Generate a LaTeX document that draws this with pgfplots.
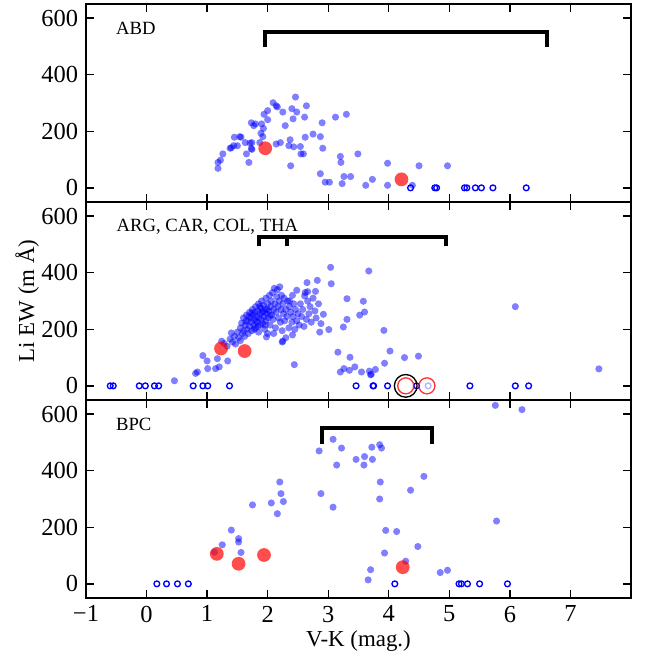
\documentclass[border=0pt]{standalone}
\usepackage{fontspec}
\setmainfont{Liberation Serif}
\usepackage{pgfplots}
\pgfplotsset{compat=1.18}

\pgfplotsset{
  panel/.style={
    scale only axis, width=245.25pt, height=89.1pt,
    xmin=-1, xmax=8, ymin=-50, ymax=650,
    xtick={-1,0,1,2,3,4,5,6,7}, ytick={0,200,400,600},
    tick align=inside, major tick length=3.6pt,
    axis line style={line width=0.9pt},
    tick style={line width=0.6pt, black},
    tick label style={font=\fontsize{11}{13}\selectfont},
    /pgf/number format/assume math mode=true,
    anchor=south west, clip mode=individual,
  },
  bluedot/.style={only marks, blue, mark=*, mark size=1.6pt,
    mark options={draw opacity=0, fill=blue, fill opacity=0.5}},
  openblue/.style={only marks, blue, mark=o, mark size=1.3pt,
    mark options={draw=blue, line width=0.6pt}},
  reddot/.style={only marks, red, mark=*, mark size=3.1pt,
    mark options={draw opacity=0, fill=red, fill opacity=0.7}},
  bracket/.style={black, line width=1.8pt, mark=none},
}
\tikzset{plabel/.style={anchor=west, inner sep=0pt, font=\fontsize{8.4}{10}\selectfont}}

\begin{document}
\begin{tikzpicture}
% ---------------- Panel 1: ABD ----------------
\begin{axis}[panel, at={(0,178.2pt)}, xticklabels={}]
\addplot[bluedot] coordinates {
(2.46,321)(2.09,301)(2.14,290)(2.16,286)(2.64,290)(2.40,280)(2.25,268)(2.48,268)
(2.00,273)(1.94,260)(3.30,260)(3.12,250)(2.61,250)(2.42,244)(2.00,241)(1.73,230)
(1.80,226)(1.77,220)(1.90,226)(2.90,230)(2.29,220)(1.93,210)(1.89,193)(2.75,190)
(2.62,179)(2.87,181)(1.92,181)(1.54,181)(1.56,179)(1.45,179)(2.37,170)(1.63,160)
(1.74,160)(1.71,158)(1.87,160)(2.21,160)(2.14,155)(1.50,149)(1.44,149)(1.38,140)
(1.40,142)(2.35,149)(2.43,145)(2.54,146)(2.91,140)(1.73,139)(1.74,136)(1.26,120)
(1.65,120)(2.59,120)(2.55,120)(3.20,111)(3.49,120)(1.22,98)(1.18,90)(1.18,69)
(1.69,90)(2.38,78)(3.21,90)(3.98,87)(4.50,78)(4.97,78)(2.87,50)(3.26,40)(3.37,40)
(3.73,30)(2.95,20)(3.02,20)(3.23,15)(3.62,9)(3.98,9)(4.39,9)
};
\addplot[openblue] coordinates {
(4.36,0)(4.76,0)(4.79,0)(5.25,0)(5.29,0)(5.43,0)(5.53,0)(5.72,0)(6.27,0)
};
\addplot[reddot] coordinates {(1.96,140)(4.21,30)};
\addplot[bracket] coordinates {(1.96,498)(1.96,552)(6.62,552)(6.62,498)};
\node[plabel] at (axis cs:-0.51,563) {ABD};
\end{axis}

% ---------------- Panel 2: ARG, CAR, COL, THA ----------------
\begin{axis}[panel, at={(0,89.1pt)}, xticklabels={}]
\addplot[bluedot] coordinates {
(0.46,18)(0.81,44)(0.84,49)(0.93,107)(1.00,88)(1.01,61)(1.14,61)(1.20,67)(1.34,88)
(1.17,96)(1.24,158)(1.40,187)
(1.28,150)(1.33,140)(1.38,165)(1.42,155)(1.45,175)(1.47,148)(1.50,190)(1.52,170)
(1.55,160)(1.55,205)(1.57,222)(1.58,185)(1.60,195)(1.60,240)(1.62,175)(1.63,215)
(1.65,250)(1.66,200)(1.67,230)(1.68,185)(1.70,260)(1.70,210)(1.72,240)(1.73,225)
(1.74,195)(1.75,270)(1.76,250)(1.77,215)(1.78,235)(1.79,260)(1.80,280)(1.80,205)
(1.82,245)(1.83,225)(1.84,265)(1.85,290)(1.85,190)(1.86,240)(1.87,255)(1.88,215)
(1.89,275)(1.90,300)(1.90,235)(1.91,260)(1.92,220)(1.93,285)(1.94,245)(1.95,200)
(1.96,270)(1.97,310)(1.97,230)(1.98,255)(2.00,290)(2.00,185)(2.01,240)(2.02,265)
(2.03,320)(2.04,215)(2.05,280)(2.06,300)(2.07,250)(2.08,330)(2.09,235)(2.10,270)
(2.11,345)(2.12,290)(2.13,205)(2.14,260)(2.15,315)(2.16,340)(2.17,280)(2.18,240)
(2.19,300)(2.20,350)(2.21,225)(2.22,270)(2.23,320)(2.24,195)(2.25,290)(2.26,255)
(2.27,310)(2.28,230)(2.30,270)(2.32,245)(2.33,300)(2.35,205)(2.36,280)(2.38,260)
(2.40,225)(2.41,320)(2.42,245)(2.43,290)(2.45,200)(2.46,270)(2.48,230)(2.50,255)
(2.52,215)(2.54,290)(2.56,245)(2.58,270)(2.60,210)(2.62,330)(2.64,235)(2.66,300)
(2.68,255)(2.70,280)(2.72,225)(2.75,310)(2.78,265)(2.80,240)(2.84,290)(2.88,220)
(1.64,228)(1.69,245)(1.74,258)(1.81,228)(1.87,280)(1.93,262)(1.99,270)(2.04,250)
(1.78,200)(1.84,210)(1.96,215)(2.25,158)(2.30,170)(2.41,180)(2.24,155)(2.10,185)
(1.98,173)
(3.04,419)(3.67,406)(2.82,373)(2.65,365)(2.48,338)(2.66,333)(2.79,334)(3.05,361)
(3.31,308)(3.58,299)(2.36,300)(2.61,318)(2.92,253)(3.52,250)(3.60,261)(3.31,235)
(3.25,208)(3.01,199)(2.86,190)(3.92,196)(2.44,75)(3.16,119)(3.36,101)(4.02,123)
(4.26,100)(4.49,105)(3.93,80)(3.20,49)(3.26,61)(3.35,55)(3.44,67)(3.55,49)(3.68,52)
(3.71,41)(3.78,58)(3.70,39)(6.09,280)(7.47,60)
};
\addplot[openblue] coordinates {
(-0.60,0)(-0.55,0)(-0.12,0)(-0.02,0)(0.13,0)(0.20,0)(0.77,0)(0.93,0)(1.01,0)(1.37,0)
(3.46,0)(3.74,0)(3.75,0)(3.98,0)(4.46,0)(5.34,0)(6.09,0)(6.31,0)
};
\addplot[only marks, blue, mark=o, mark size=1.3pt,
  mark options={draw=blue, draw opacity=0.3, line width=0.6pt}] coordinates {(4.65,0)};
\addplot[only marks, red, mark=o, mark size=3.6pt,
  mark options={draw=red, line width=0.6pt, draw opacity=0.8}] coordinates {(4.28,0)(4.63,0)};
\addplot[only marks, black, mark=o, mark size=5.1pt,
  mark options={draw=black, line width=0.6pt}] coordinates {(4.28,0)};
\addplot[reddot] coordinates {(1.23,132)(1.62,123)};
\addplot[bracket] coordinates {(1.85,494)(1.85,526)(4.94,526)(4.94,494)};
\addplot[bracket] coordinates {(2.32,494)(2.32,526)};
\node[plabel] at (axis cs:-0.50,563) {ARG, CAR, COL, THA};
\node[rotate=90, anchor=center, inner sep=0pt, font=\fontsize{10.3}{12}\selectfont]
  at (axis description cs:-0.108,0.5) {Li EW (m Å)};
\end{axis}

% ---------------- Panel 3: BPC ----------------
\begin{axis}[panel, at={(0,0)},
  xticklabels={−1,0,1,2,3,4,5,6,7}]
\addplot[bluedot] coordinates {
(5.76,631)(6.20,616)(3.08,511)(2.85,470)(3.22,480)(3.72,483)(3.85,492)(3.88,480)
(3.46,440)(3.60,450)(3.73,440)(3.14,420)(3.59,420)(4.58,380)(2.20,360)(3.86,360)
(4.36,331)(2.88,319)(2.22,319)(3.85,300)(2.06,286)(2.26,291)(1.75,279)(3.08,271)
(2.16,248)(5.78,222)(1.40,190)(1.52,160)(1.52,148)(3.95,189)(4.13,185)(1.25,138)
(4.48,132)(1.56,111)(3.93,109)(1.12,112)(4.28,80)(3.70,50)(3.66,14)(4.85,40)(4.97,48)
};
\addplot[openblue] coordinates {
(0.17,0)(0.33,0)(0.51,0)(0.69,0)(4.10,0)(5.16,0)(5.20,0)(5.30,0)(5.50,0)(5.96,0)
};
\addplot[reddot] coordinates {(1.16,106)(1.52,71)(1.94,102)(4.23,59)};
\addplot[bracket] coordinates {(2.90,495)(2.90,552)(4.72,552)(4.72,495)};
\node[plabel] at (axis cs:-0.51,563) {BPC};
\node[anchor=center, inner sep=0pt, font=\fontsize{10.3}{12}\selectfont]
  at (axis description cs:0.5,-0.215) {V-K (mag.)};
\end{axis}
\pgfresetboundingbox
\path[use as bounding box] (-38.7pt,-25.65pt) rectangle (256.95pt,269.1pt);
\end{tikzpicture}
\end{document}
